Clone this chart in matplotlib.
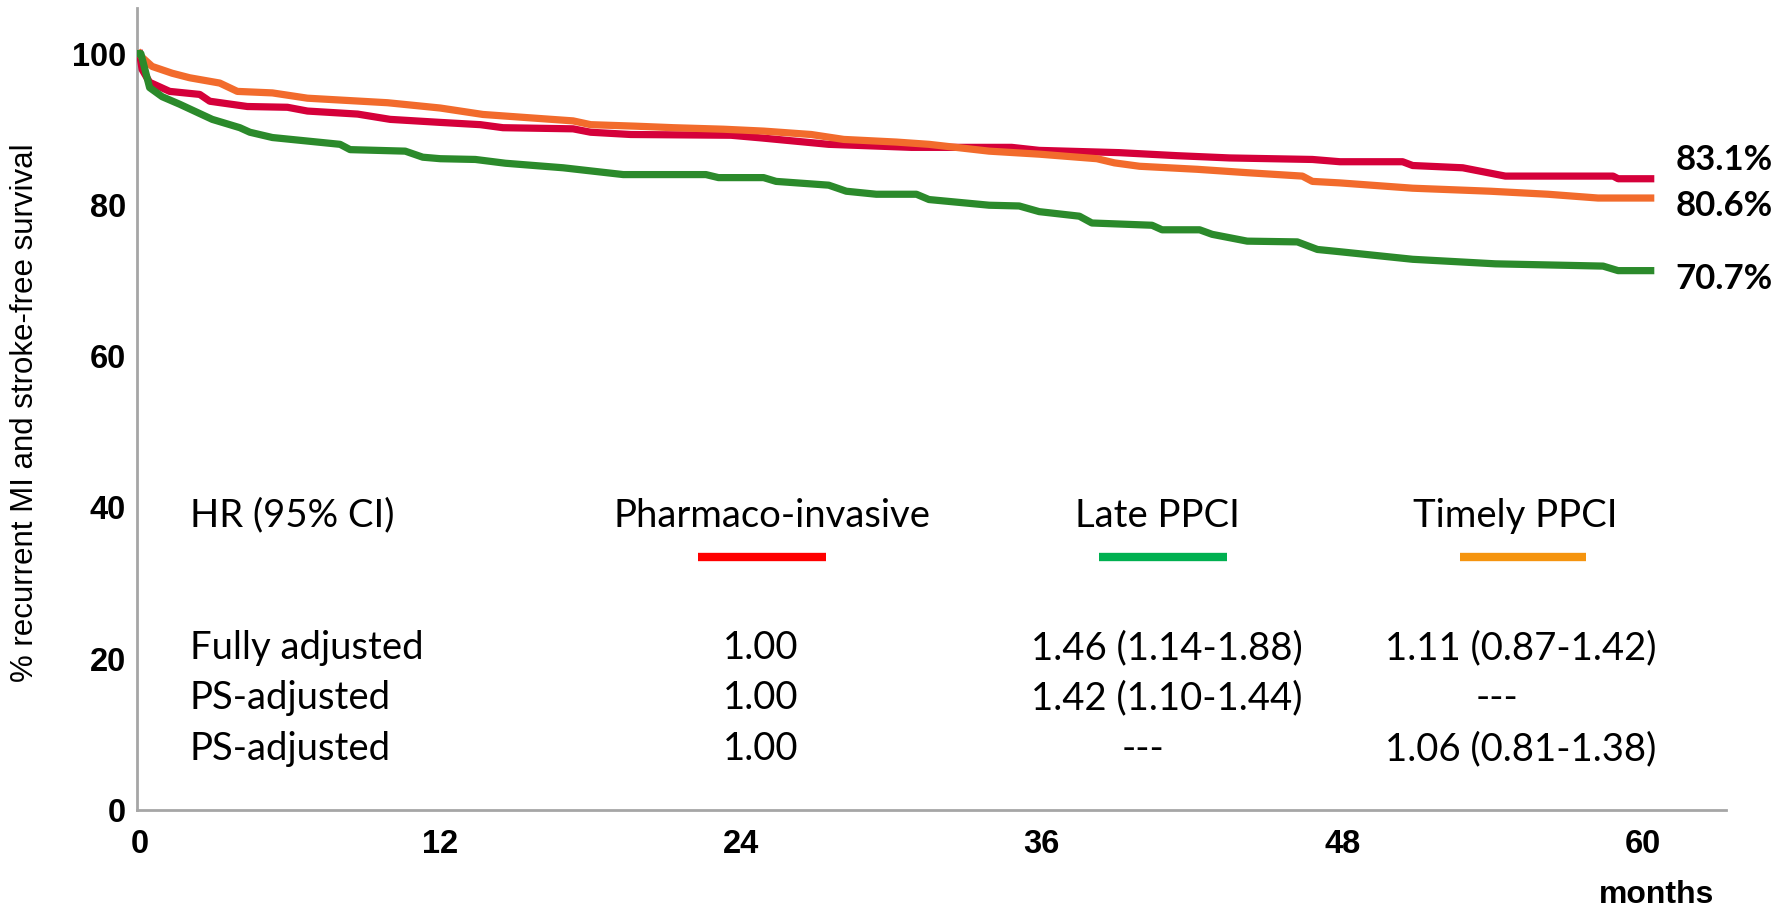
import numpy as np
import matplotlib
matplotlib.use("Agg")
import matplotlib.pyplot as plt

# survival curves (months, %)
pi_months = [0, 0.1, 0.4, 1.2, 2.4, 2.8, 4.3, 5.9, 6.7, 8.7, 10.0, 12.0, 13.6, 14.5, 17.3, 18.0,
             19.6, 23.6, 24.8, 27.5, 30.8, 34.8, 35.9, 39.1, 41.4, 43.5, 46.8, 47.9, 50.4, 50.8,
             52.8, 54.5, 58.8, 59.0, 60.3]
pi_surv = [100, 97.9, 96.2, 95.0, 94.6, 93.7, 93.0, 92.9, 92.4, 92.0, 91.3, 90.9, 90.6, 90.2, 90.05,
           89.6, 89.3, 89.2, 88.85, 88.0, 87.6, 87.6, 87.2, 86.9, 86.5, 86.2, 86.0, 85.7, 85.7, 85.2,
           84.9, 83.8, 83.8, 83.45, 83.45]

late_months = [0, 0.05, 0.4, 0.9, 1.6, 2.9, 4.0, 4.4, 5.3, 8.0, 8.4, 10.6, 11.3, 12.0, 13.4, 14.6,
               16.9, 19.3, 22.6, 23.1, 24.9, 25.4, 27.5, 28.2, 29.4, 31.0, 31.5, 33.9, 35.1, 35.9,
               37.5, 38.0, 40.4, 40.8, 42.3, 42.8, 44.2, 46.2, 47.0, 47.9, 50.8, 54.1, 58.4, 59.0,
               60.3]
late_surv = [100, 100, 95.5, 94.3, 93.3, 91.3, 90.2, 89.6, 88.9, 88.0, 87.3, 87.1, 86.3, 86.1, 86.0,
             85.5, 84.9, 84.0, 84.0, 83.6, 83.6, 83.1, 82.6, 81.8, 81.4, 81.4, 80.7, 79.95, 79.85,
             79.1, 78.5, 77.6, 77.3, 76.7, 76.7, 76.1, 75.2, 75.1, 74.1, 73.8, 72.8, 72.2, 71.9,
             71.3, 71.3]

timely_months = [0, 0.1, 0.5, 1.3, 2.0, 3.2, 3.9, 5.3, 6.7, 9.9, 12.0, 13.7, 15.6, 17.3, 18.0,
                 19.8, 21.3, 23.3, 24.9, 26.8, 28.1, 30.2, 31.5, 33.9, 35.9, 38.2, 38.9, 39.9,
                 42.2, 44.2, 46.4, 46.8, 47.9, 50.8, 53.9, 56.2, 58.2, 60.3]
timely_surv = [100, 99.5, 98.3, 97.4, 96.8, 96.1, 95.0, 94.8, 94.1, 93.5, 92.8, 91.95, 91.5, 91.1,
               90.6, 90.4, 90.2, 90.0, 89.75, 89.3, 88.65, 88.3, 88.0, 87.1, 86.7, 86.1, 85.55,
               85.1, 84.7, 84.25, 83.8, 83.1, 82.9, 82.2, 81.8, 81.4, 80.9, 80.9]

end_labels = ["83.1%", "80.6%", "70.7%"]
end_label_y = [85.9, 79.8, 70.2]

groups = ["Pharmaco-invasive", "Late PPCI", "Timely PPCI"]
row_labels = ["Fully adjusted", "PS-adjusted", "PS-adjusted"]
hr_table = [["1.00", "1.46 (1.14-1.88)", "1.11 (0.87-1.42)"],
            ["1.00", "1.42 (1.10-1.44)", "---"],
            ["1.00", "---", "1.06 (0.81-1.38)"]]

x_ticks = [0, 12, 24, 36, 48, 60]
y_ticks = [0, 20, 40, 60, 80, 100]

curve_colors = ["#d5003a", "#2b8a2b", "#f26b2c"]
bar_colors = ["#ff0000", "#00b050", "#f5940f"]

fig = plt.figure(figsize=(17.92, 9.11), dpi=100)
ax = fig.add_axes([0.0765, 0.111, 0.8866, 0.880])

ax.plot(pi_months, pi_surv, color=curve_colors[0], lw=5.2, zorder=3)
ax.plot(timely_months, timely_surv, color=curve_colors[2], lw=5.2, zorder=3)
ax.plot(late_months, late_surv, color=curve_colors[1], lw=5.2, zorder=3)

ax.set_xlim(-0.1, 63.3)
ax.set_ylim(0, 106)
ax.set_xticks(x_ticks)
ax.set_yticks(y_ticks)
for lab in ax.get_xticklabels() + ax.get_yticklabels():
    lab.set_fontfamily("Liberation Sans")
    lab.set_fontweight("bold")
    lab.set_fontsize(23.5)
ax.tick_params(axis="both", length=0)
ax.tick_params(axis="x", pad=14)
ax.tick_params(axis="y", pad=8)

for side in ["top", "right"]:
    ax.spines[side].set_visible(False)
for side in ["left", "bottom"]:
    ax.spines[side].set_color("#a6a6a6")
    ax.spines[side].set_linewidth(2)

fig.text(0.014, 0.547, "% recurrent MI and stroke-free survival", rotation=90,
         ha="center", va="center", fontsize=22.5, family="Liberation Sans")
fig.text(0.9565, 0.0175, "months", ha="right", va="center", fontsize=23,
         fontweight="bold", family="Liberation Sans")

# end-of-follow-up percentages
for lab, yv in zip(end_labels, end_label_y):
    ax.text(61.3, yv, lab, ha="left", va="center", fontsize=25, fontweight="bold",
            family="Lato", clip_on=False)

# HR table
tf = dict(fontsize=27.5, family="Lato")
col_x = [25.25, 40.6, 54.9]
bar_x = [(22.3, 27.4), (38.3, 43.4), (52.7, 57.7)]
ax.text(2.0, 38.9, "HR (95% CI)", ha="left", va="center", **tf)
for g, cx, (b0, b1), bc in zip(groups, col_x, bar_x, bar_colors):
    ax.text(cx, 38.9, g, ha="center", va="center", **tf)
    ax.plot([b0, b1], [33.5, 33.5], color=bc, lw=6, solid_capstyle="butt")

row_y = [21.4, 14.8, 8.0]
val_x = [24.8, 41.0, 55.1]
for rl, ry, vals in zip(row_labels, row_y, hr_table):
    ax.text(2.0, ry, rl, ha="left", va="center", **tf)
    for vx, v in zip(val_x, vals):
        if v == "---":
            vx = vx - 0.95
        ax.text(vx, ry, v, ha="center", va="center", **tf)

fig.savefig("out.png", dpi=100)
